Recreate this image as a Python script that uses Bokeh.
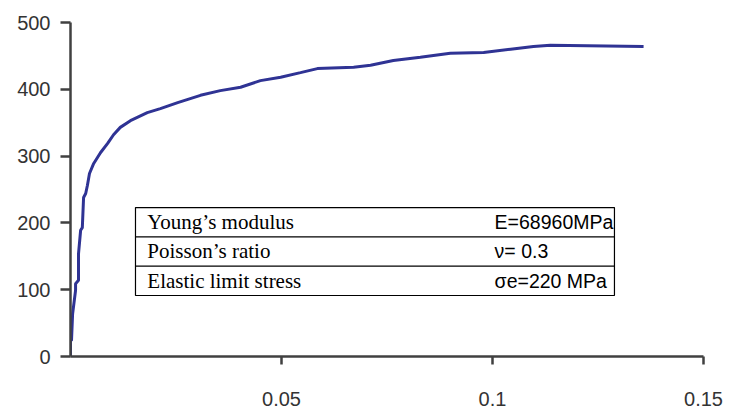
from bokeh.plotting import figure
from bokeh.models import FixedTicker, Label
from bokeh.embed import file_html
from bokeh.resources import INLINE

# Stress-strain curve (strain, stress in MPa)
strain = [0.0, 0.0, 0.00024, 0.0005, 0.0012, 0.0012, 0.0019, 0.0019, 0.0024, 0.0028,
          0.0031, 0.0036, 0.0040, 0.0045, 0.0055, 0.0071, 0.0088, 0.0102, 0.0118,
          0.0142, 0.0182, 0.0213, 0.0254, 0.0308, 0.0355, 0.0403, 0.0450, 0.0498,
          0.0545, 0.0585, 0.0671, 0.0711, 0.0765, 0.0829, 0.0900, 0.0979, 0.1043,
          0.1097, 0.1137, 0.1358]
stress = [0, 24, 24, 64, 99, 109, 114, 154, 189, 193,
          238, 244, 256, 274, 289, 305, 319, 332, 343,
          353, 365, 371, 380, 391, 398, 403, 413, 418,
          425, 431, 433, 436, 443, 448, 454, 455, 460,
          464, 466, 464]

x_ticks = [0.05, 0.1, 0.15]
x_tick_labels = ["0.05", "0.1", "0.15"]
y_ticks = [0, 100, 200, 300, 400, 500]

table_names = ["Young\u2019s modulus", "Poisson\u2019s ratio", "Elastic limit  stress"]
table_values = ["E=68960MPa", "\u03bd= 0.3", "\u03c3e=220 MPa"]

p = figure(width=734, height=412, output_backend="svg", toolbar_location=None,
           x_range=(0, 0.15), y_range=(0, 500),
           min_border_left=70, min_border_right=31, min_border_top=22, min_border_bottom=56)
p.outline_line_color = None
p.xgrid.visible = False
p.ygrid.visible = False
p.background_fill_color = "white"
p.border_fill_color = "white"

axis_color = "#404040"
for ax in (p.xaxis[0], p.yaxis[0]):
    ax.axis_line_color = axis_color
    ax.axis_line_width = 2.5
    ax.major_tick_line_color = axis_color
    ax.major_tick_line_width = 2.5
    ax.minor_tick_line_color = None
    ax.major_tick_in = 0
    ax.major_label_text_font = "Liberation Sans"
    ax.major_label_text_font_size = "20px"
    ax.major_label_text_color = "#333333"

p.xaxis[0].ticker = FixedTicker(ticks=x_ticks)
p.xaxis[0].major_label_overrides = {t: l for t, l in zip(x_ticks, x_tick_labels)}
p.xaxis[0].major_tick_out = 8
p.xaxis[0].major_label_standoff = 27
p.yaxis[0].ticker = FixedTicker(ticks=y_ticks)
p.yaxis[0].major_tick_out = 10
p.yaxis[0].major_label_standoff = 10

p.line(strain, stress, line_color="#2f3394", line_width=3)

# Table of material properties (data coordinates)
tx0, tx1 = 0.0154, 0.1289
row_edges = [223, 179.2, 135.3, 91.3]
p.quad(left=[tx0], right=[tx1], top=[row_edges[0]], bottom=[row_edges[-1]],
       fill_color="white", line_color="black", line_width=1.2)
p.segment(x0=[tx0, tx0], x1=[tx1, tx1], y0=row_edges[1:3], y1=row_edges[1:3],
          line_color="black", line_width=1.2)

for i, (name, val) in enumerate(zip(table_names, table_values)):
    yc = (row_edges[i] + row_edges[i + 1]) / 2
    p.add_layout(Label(x=0.0182, y=yc, text=name, text_font="Liberation Serif",
                       text_font_size="21px", text_color="black", text_baseline="middle"))
    p.add_layout(Label(x=0.1005, y=yc, text=val, text_font="Liberation Sans",
                       text_font_size="19.5px", text_color="black", text_baseline="middle"))

open("out.html", "w").write(file_html(p, INLINE))
